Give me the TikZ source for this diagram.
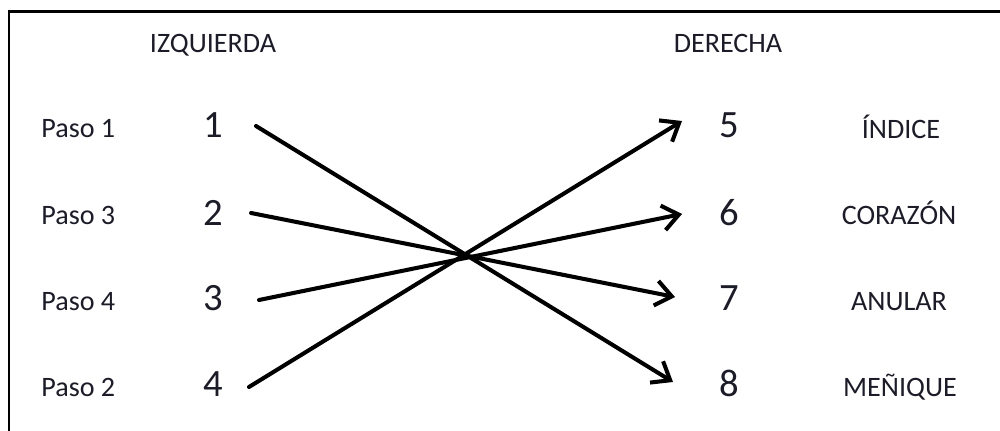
\documentclass[tikz,border=0pt]{standalone}
\usepackage{fontspec}
\setmainfont{Carlito}
\usetikzlibrary{arrows.meta}
\definecolor{txt}{HTML}{1C1C28}
\tikzset{
  lbl/.style={inner sep=0pt, text=txt, font=\fontsize{16}{19}\selectfont},
  num/.style={inner sep=0pt, text=txt, font=\fontsize{22}{26}\selectfont},
  conn/.style={line width=2.3pt, line cap=round, -{Straight Barb[length=3.2mm,width=5mm,line width=2.3pt]}},
  frame/.style={line width=1.7pt}
}
\begin{document}
\begin{tikzpicture}[x=0.02cm,y=-0.02cm]
\useasboundingbox (0,0) rectangle (1000,431);
\draw[frame] (9,431) -- (9,12) -- (1000,12);
% headers
\node[lbl, anchor=base] (hl) at (213,53) {IZQUIERDA};
\node[lbl, anchor=base] (hr) at (728,53) {DERECHA};
% left labels
\node[lbl, anchor=base west] (p1) at (41,138) {Paso 1};
\node[lbl, anchor=base west] (p3) at (41,225) {Paso 3};
\node[lbl, anchor=base west] (p4) at (41,311) {Paso 4};
\node[lbl, anchor=base west] (p2) at (41,397) {Paso 2};
% numbers
\node[num, anchor=base] (n1) at (213,138) {1};
\node[num, anchor=base] (n2) at (213,226) {2};
\node[num, anchor=base] (n3) at (213,311) {3};
\node[num, anchor=base] (n4) at (213,397) {4};
\node[num, anchor=base] (n5) at (729,138) {5};
\node[num, anchor=base] (n6) at (729,226) {6};
\node[num, anchor=base] (n7) at (729,311) {7};
\node[num, anchor=base] (n8) at (729,397) {8};
% right labels
\node[lbl, anchor=base] (r5) at (901,139) {ÍNDICE};
\node[lbl, anchor=base] (r6) at (899,225) {CORAZÓN};
\node[lbl, anchor=base] (r7) at (899,311) {ANULAR};
\node[lbl, anchor=base] (r8) at (900,397) {MEÑIQUE};
% connector ends
\coordinate (s1) at (256,126);
\coordinate (s2) at (251,213);
\coordinate (s3) at (259,300);
\coordinate (s4) at (249,387);
\coordinate (e5) at (682,121);
\coordinate (e6) at (682,214);
\coordinate (e7) at (675,297);
\coordinate (e8) at (673,382);
\draw[conn] (s1) -- (e8);
\draw[conn] (s2) -- (e7);
\draw[conn] (s3) -- (e6);
\draw[conn] (s4) -- (e5);
\end{tikzpicture}
\end{document}
